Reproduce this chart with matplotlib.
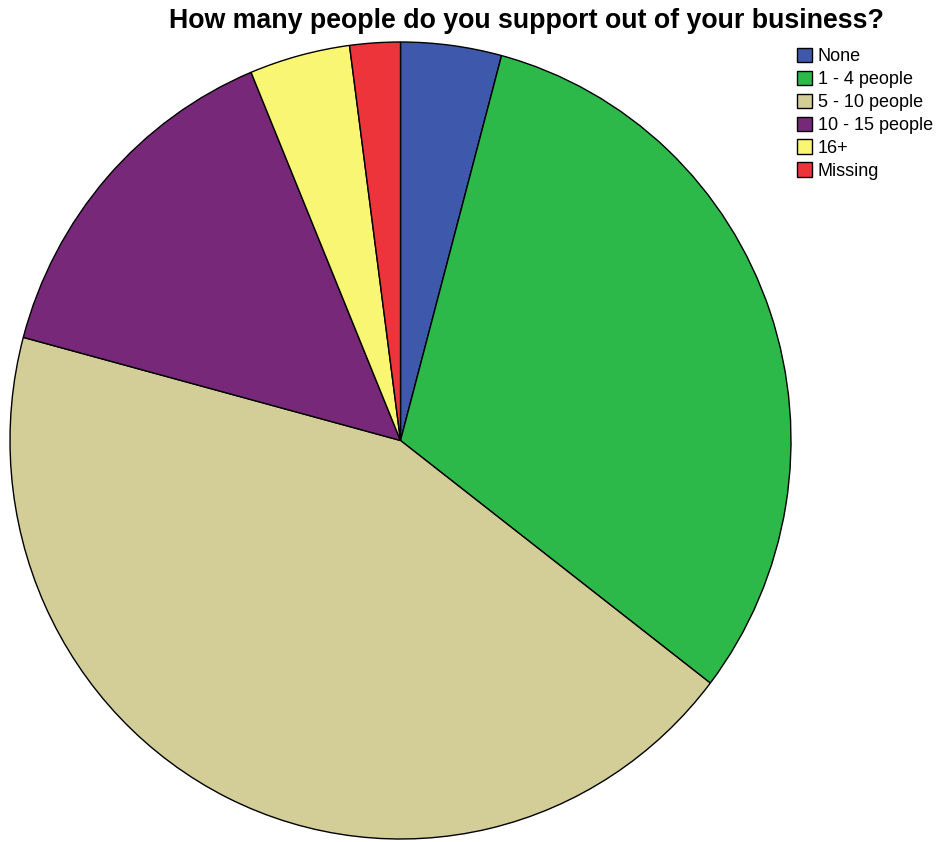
import matplotlib.pyplot as plt

plt.rcParams['font.family'] = ['Liberation Sans', 'DejaVu Sans']

# response counts per category
labels = ["None", "1 - 4 people", "5 - 10 people", "10 - 15 people", "16+", "Missing"]
counts = [2, 15, 21, 7, 2, 1]
colors = ["#3e58ac", "#2db84a", "#d3ce97", "#782878", "#f9f673", "#ee343b"]

W, H = 937, 842
fig = plt.figure(figsize=(W / 100, H / 100), dpi=100)

# pie box in pixels (left, top, width, height); slightly taller than wide
px, py, pw, ph = 10, 42, 781, 797
ax = fig.add_axes([px / W, (H - py - ph) / H, pw / W, ph / H])

wedges, _ = ax.pie(counts, colors=colors, startangle=90, counterclock=False,
                   radius=1.0,
                   wedgeprops=dict(edgecolor="black", linewidth=1.0))
ax.set_aspect("auto")
ax.set_xlim(-1, 1)
ax.set_ylim(-1, 1)
ax.axis("off")

fig.text(526.5 / W, 1 - 28 / H, "How many people do you support out of your business?",
         ha="center", va="baseline", fontsize=19.3, fontweight="bold")

leg = fig.legend(wedges, labels, loc="upper left",
                 bbox_to_anchor=(797 / W, 1 - 48 / H),
                 frameon=False, fontsize=13, handlelength=0.85, handleheight=0.85,
                 handletextpad=0.3, labelspacing=0.3, borderpad=0.0,
                 borderaxespad=0.0)
for h in leg.legend_handles:
    h.set_edgecolor("black")
    h.set_linewidth(1.0)

fig.savefig("out.png", dpi=100)
